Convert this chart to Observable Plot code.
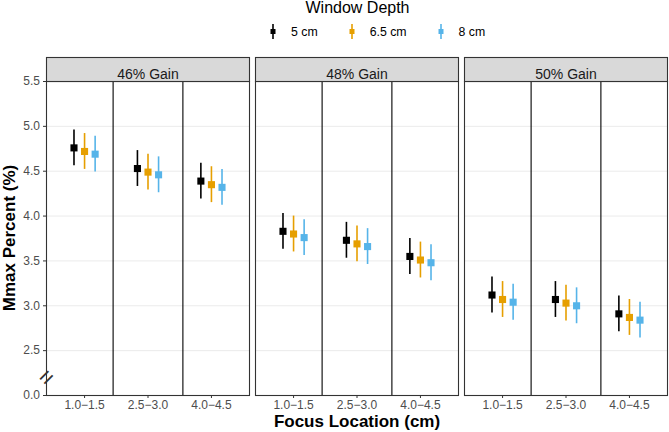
<!DOCTYPE html>
<html>
<head>
<meta charset="utf-8">
<script src="https://cdn.jsdelivr.net/npm/d3@7"></script>
<script src="https://cdn.jsdelivr.net/npm/@observablehq/plot@0.6"></script>
<style>
  html, body { margin: 0; padding: 0; background: #ffffff; }
  body { width: 669px; height: 432px; overflow: hidden; font-family: "Liberation Sans", Arial, sans-serif; }
  #legend { position: relative; height: 45px; }
  #legend .title { position: absolute; left: 46px; right: 0; top: 0px; text-align: center; font-size: 16px; line-height: 16px; color: #000; }
  #legend .items { position: absolute; top: 24px; left: 267px; height: 15px; display: flex; align-items: center; font-size: 12.3px; color: #000; }
  #legend .item { display: flex; align-items: center; margin-right: 28px; }
  #legend .item svg { margin-right: 12px; }
</style>
</head>
<body>
<div id="legend">
  <div class="title">Window Depth</div>
  <div class="items"></div>
</div>
<div id="chart"></div>
<script>
// ---- data ----
const panels = ["46% Gain", "48% Gain", "50% Gain"];
const locations = ["1.0\u22121.5", "2.5\u22123.0", "4.0\u22124.5"];
const depths = ["5 cm", "6.5 cm", "8 cm"];
const depthColors = ["#000000", "#E69F00", "#56B4E9"];

// Mmax percent, per location (rows) and window depth (cols)
const mmax46 = [[4.76, 4.72, 4.69], [4.53, 4.49, 4.46], [4.39, 4.35, 4.32]];
const mmax48 = [[3.83, 3.80, 3.76], [3.73, 3.69, 3.66], [3.55, 3.51, 3.48]];
const mmax50 = [[3.12, 3.07, 3.04], [3.07, 3.03, 3.00], [2.91, 2.87, 2.84]];
// half-width of the interval bars
const err46 = [[0.20, 0.20, 0.20], [0.20, 0.20, 0.20], [0.20, 0.20, 0.20]];
const err48 = [[0.20, 0.20, 0.20], [0.20, 0.20, 0.20], [0.20, 0.20, 0.20]];
const err50 = [[0.20, 0.20, 0.20], [0.20, 0.20, 0.20], [0.20, 0.20, 0.20]];

// broken y axis: the bottom tick stands for 0.0
const yTickValues = [2.0, 2.5, 3.0, 3.5, 4.0, 4.5, 5.0, 5.5];
const yTickLabels = ["0.0", "2.5", "3.0", "3.5", "4.0", "4.5", "5.0", "5.5"];
const gridValues = [2.5, 3.0, 3.5, 4.0, 4.5, 5.0];
const axisBreak = 2.2;
const dividers = [1.45, 2.55];

// ---- build table ----
const allValues = [mmax46, mmax48, mmax50];
const allErrors = [err46, err48, err50];
const dodge = 0.5 / depths.length;
const rows = [];
panels.forEach((p, pi) => locations.forEach((loc, li) => depths.forEach((dep, di) => {
  const v = allValues[pi][li][di], e = allErrors[pi][li][di];
  rows.push({panel: p, loc, depth: dep, x: li + 1 + (di - (depths.length - 1) / 2) * dodge, value: v, lo: v - e, hi: v + e});
})));

// ---- legend ----
const items = d3.select("#legend .items");
depths.forEach((d, i) => {
  const it = items.append("div").attr("class", "item");
  const s = it.append("svg").attr("width", 12).attr("height", 15);
  s.append("line").attr("x1", 6).attr("x2", 6).attr("y1", 0).attr("y2", 15)
    .attr("stroke", depthColors[i]).attr("stroke-width", 1.6);
  s.append("rect").attr("x", 3.5).attr("y", 5).attr("width", 5).attr("height", 5).attr("fill", depthColors[i]);
  it.append("span").text(d);
});

// ---- chart ----
const W = 669, H = 387, mL = 46, mR = 1, mT = 36, mB = 37;
const frameH = H - mT - mB;
const font = "Liberation Sans, Arial, sans-serif";

const chart = Plot.plot({
  width: W, height: H,
  marginLeft: mL, marginRight: mR, marginTop: mT, marginBottom: mB,
  style: {fontFamily: font, background: "white", overflow: "visible"},
  fx: {domain: panels, paddingInner: 0.0277, paddingOuter: 0, axis: null, label: null},
  x: {domain: [0.4, 3.6], label: null},
  y: {domain: [2.0, 5.5], label: null},
  color: {domain: depths, range: depthColors},
  marks: [
    Plot.gridY(gridValues, {stroke: "#ebebeb", strokeOpacity: 1, strokeWidth: 1}),
    Plot.ruleX(dividers, {x: d => d, stroke: "#000000", strokeWidth: 1.1}),
    Plot.ruleX(rows, {fx: "panel", x: "x", y1: "lo", y2: "hi", stroke: "depth", strokeWidth: 1.6}),
    Plot.dot(rows, {fx: "panel", x: "x", y: "value", fill: "depth", symbol: "square", r: 4, stroke: null}),
    Plot.frame({stroke: "#333333", strokeWidth: 1.1}),
    Plot.frame({fill: "#d9d9d9", stroke: "#333333", strokeWidth: 1.1, insetTop: -24, insetBottom: frameH}),
    Plot.text(panels, {fx: d => d, frameAnchor: "top", dy: -12, text: d => d, fontSize: 14, fill: "#1a1a1a"}),
    Plot.axisX({ticks: [1, 2, 3], tickFormat: d => locations[d - 1], tickSize: 3, tickPadding: 2, fontSize: 12, color: "#4d4d4d", stroke: "#333333", label: null}),
    Plot.axisY({ticks: yTickValues, tickFormat: d => yTickLabels[yTickValues.indexOf(d)], tickSize: 3, tickPadding: 3.5, fontSize: 12, color: "#4d4d4d", stroke: "#333333", label: null}),
    Plot.text([panels[0]], {fx: d => d, frameAnchor: "left", y: () => axisBreak, text: () => "=", textAnchor: "middle", rotate: -45, fontSize: 24, fill: "#333333"})
  ]
});

const svg = d3.select(chart);
svg.append("text")
  .attr("x", mL + (W - mL - mR) / 2).attr("y", H - 5.5)
  .attr("text-anchor", "middle").attr("font-family", font)
  .attr("font-size", 17).attr("font-weight", "bold").attr("fill", "#000")
  .text("Focus Location (cm)");
svg.append("text")
  .attr("transform", `translate(15,${mT + frameH / 2}) rotate(-90)`)
  .attr("text-anchor", "middle").attr("font-family", font)
  .attr("font-size", 17).attr("font-weight", "bold").attr("fill", "#000")
  .text("Mmax Percent (%)");

document.getElementById("chart").appendChild(chart);
</script>
</body>
</html>
